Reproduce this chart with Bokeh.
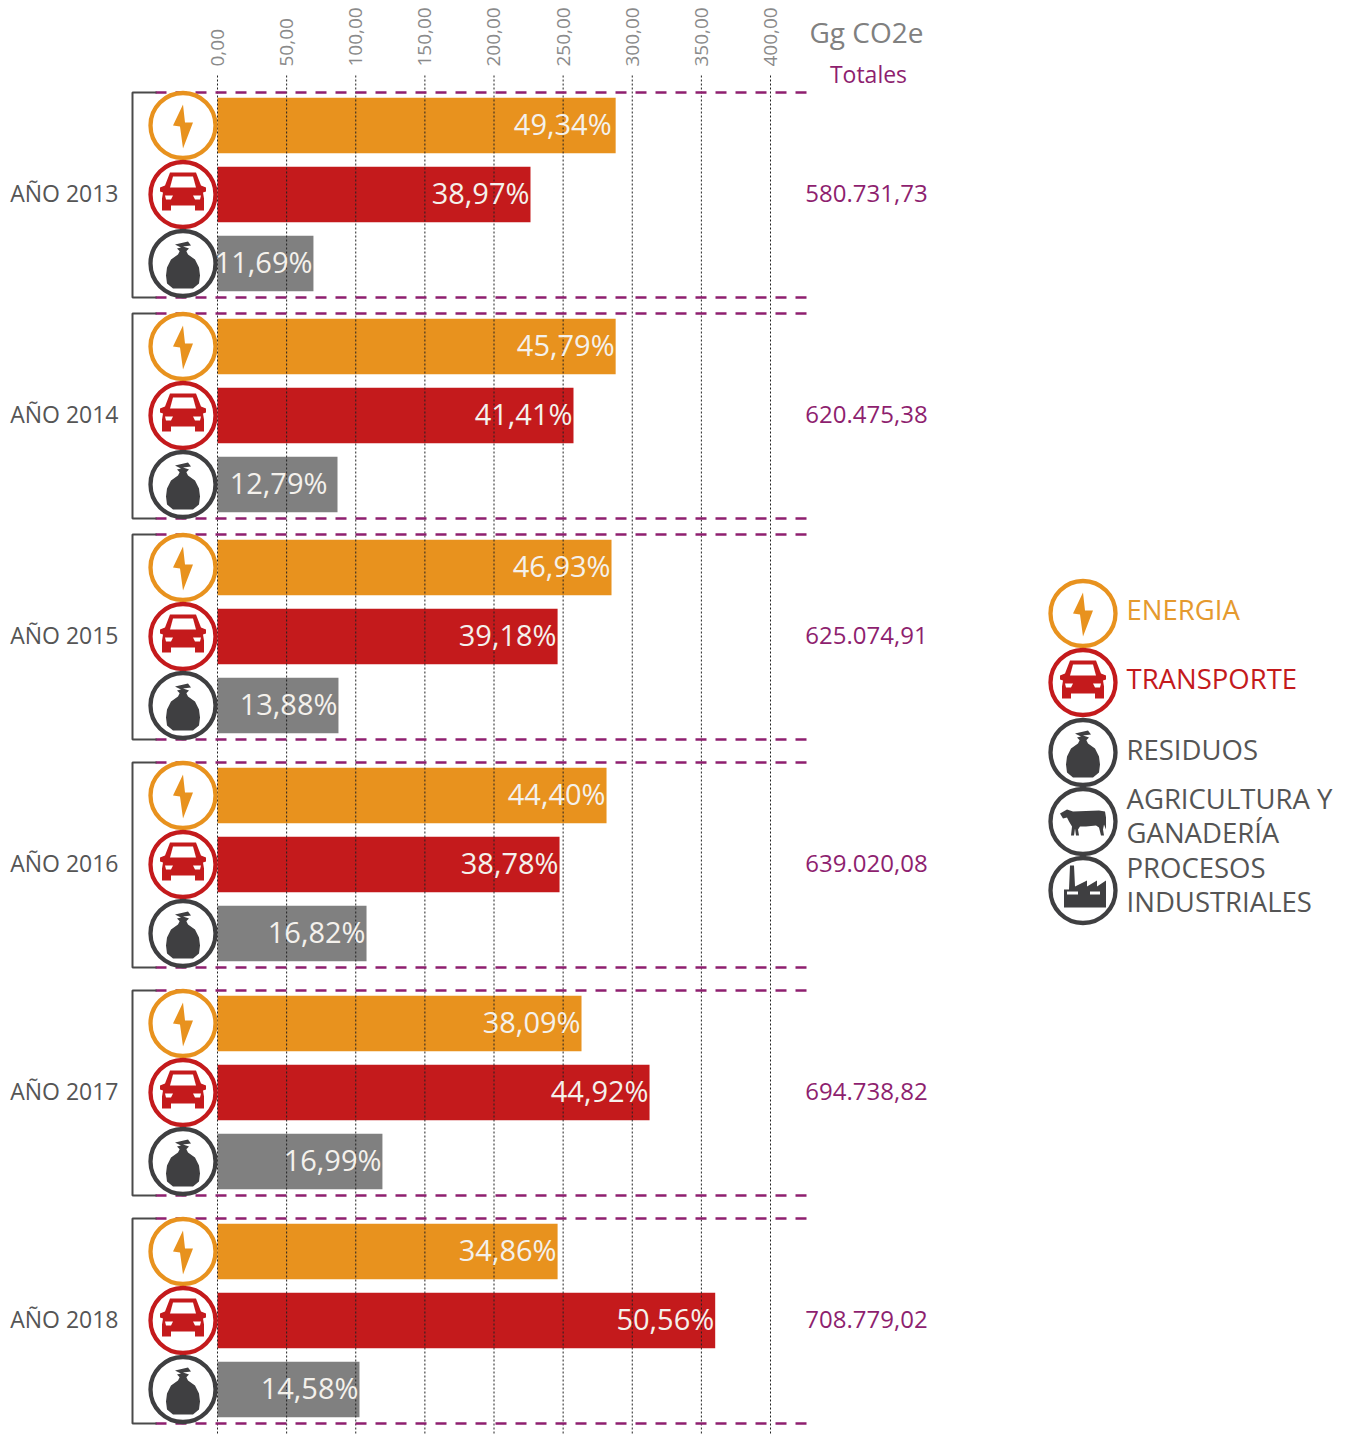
from bokeh.plotting import figure
from bokeh.models import Range1d, LinearAxis, FixedTicker
from bokeh.core.properties import value
from bokeh.embed import file_html
from bokeh.resources import INLINE

# ---------- data ----------
years = ["AÑO 2013", "AÑO 2014", "AÑO 2015", "AÑO 2016", "AÑO 2017", "AÑO 2018"]
totals = ["580.731,73", "620.475,38", "625.074,91", "639.020,08", "694.738,82", "708.779,02"]
energia = [288, 288, 285, 281.4, 263.3, 246]
transporte = [226.4, 257.5, 246, 247.4, 312.5, 360]
residuos = [69.4, 86.8, 87.5, 107.8, 119.3, 102.7]
energia_pct = ["49,34%", "45,79%", "46,93%", "44,40%", "38,09%", "34,86%"]
transporte_pct = ["38,97%", "41,41%", "39,18%", "38,78%", "44,92%", "50,56%"]
residuos_pct = ["11,69%", "12,79%", "13,88%", "16,82%", "16,99%", "14,58%"]
tick_values = [0, 50, 100, 150, 200, 250, 300, 350, 400]
tick_labels = ["0,00", "50,00", "100,00", "150,00", "200,00", "250,00", "300,00", "350,00", "400,00"]
unit_title = "Gg CO2e"
total_title = "Totales"
legend_lines = ["ENERGIA", "TRANSPORTE", "RESIDUOS", "AGRICULTURA Y", "GANADERÍA", "PROCESOS", "INDUSTRIALES"]

# ---------- style / layout ----------
FONT = value("Open Sans")
ORANGE, RED, GRAY, DARK = "#E8921E", "#C41A1C", "#808080", "#3F3F41"
ORANGE_T = "#E59A2E"
PURPLE = "#8E1F6F"
TICK = "#8A8A8A"
TEXT = "#555555"
W, H = 1342, 1434
AXIS_Y = 75
X0 = 217
PX_PER_UNIT = (770 - 217) / 400
group_y = [194, 415, 636, 864, 1092, 1320]
row_off = [-69, 0, 69]

p = figure(width=W, height=H, output_backend="svg", toolbar_location=None,
           x_range=Range1d((0 - X0) / PX_PER_UNIT, (W - X0) / PX_PER_UNIT),
           y_range=Range1d(H, 0),
           x_axis_location=None, y_axis_location=None,
           min_border_left=0, min_border_right=0, min_border_bottom=0,
           min_border_top=0, outline_line_color=None,
           background_fill_color="white", border_fill_color="white")
p.extra_x_ranges = {"px": Range1d(0, W)}
p.grid.visible = False

ax = LinearAxis(ticker=FixedTicker(ticks=tick_values), fixed_location=AXIS_Y,
                major_label_overrides=dict(zip(tick_values, tick_labels)),
                major_label_orientation=1.5708, major_label_standoff=3,
                major_label_text_font="Open Sans", major_label_text_font_size="19px",
                major_label_text_color=TICK, axis_line_color=None,
                major_tick_line_color=None, minor_tick_line_color=None)
p.add_layout(ax, "above")

# bars
for series, off, col in zip((energia, transporte, residuos), row_off, (ORANGE, RED, GRAY)):
    p.hbar(y=[g + off for g in group_y], right=series, left=0, height=55.5,
           color=col, line_color=None, level="image")

# vertical dotted rules at the ticks, over the bars
p.segment(x0=tick_values, x1=tick_values, y0=[AXIS_Y] * len(tick_values), y1=[H] * len(tick_values),
          line_color="#222222", line_width=1, line_dash="2 2", level="underlay")

# group decoration: dashed lines + brackets
dash_y = [g - 102 for g in group_y] + [g + 103 for g in group_y]
p.multi_line(xs=[[806, 146]] * len(dash_y), ys=[[y, y] for y in dash_y],
             x_range_name="px", line_color=PURPLE, line_width=2.5, line_dash="11 9")
p.multi_line(xs=[[156, 132, 132, 156]] * 6,
             ys=[[g - 102, g - 102, g + 103, g + 103] for g in group_y],
             x_range_name="px", line_color="#4A4A4A", line_width=2)

# ---------- icons (local px around the circle centre, y down) ----------
BOLT = [(0, -21), (-10, 0), (-3, 1), (0, 23), (10, -3), (2, -3)]
CAR = [(-13, -22), (13, -22), (18, -9), (23, -7), (23, -3), (20, -2), (21, 4), (21, 16), (12, 16), (12, 11),
       (-12, 11), (-12, 16), (-21, 16), (-21, 4), (-20, -2), (-23, -3), (-23, -7), (-18, -9)]
CAR_WIN = [(-10, -18), (10, -18), (13, -7), (-13, -7)]
CAR_L1 = [(-18, 1), (-10, 1), (-12, 5), (-17, 5)]
CAR_L2 = [(18, 1), (10, 1), (12, 5), (17, 5)]
BAG = [(-3, -13), (3, -13), (5, -9), (12, -4), (16, 4), (17, 12), (16, 20), (10, 25), (-10, 25), (-16, 20), (-17, 12),
       (-16, 4), (-12, -4), (-5, -9)]
BAG_TIE = [(-8, -19), (5, -22), (8, -18), (0, -17), (6, -15), (3, -12), (-3, -12), (-6, -15), (-2, -16)]
COW = [(-23, -8), (-16, -12), (-10, -10), (16, -11), (22, -10), (23, -4), (23, 8), (21, 3), (20, 8), (21, 14),
       (18, 14), (16, 6), (13, 4), (3, 5), (-3, 5), (-5, 8), (-4, 14), (-7, 14), (-8, 7), (-9, 14), (-12, 14),
       (-11, 5), (-14, 0), (-16, -4), (-20, -3)]
FACTORY = [(-19, -1), (-14, -1), (-13, -25), (-9, -25), (-8, -4), (4, -10), (4, -4), (14, -10), (14, -4), (23, -10),
           (23, 17), (-19, 17)]
FAC_W1 = [(-16, 1), (-5, 1), (-5, 4), (-16, 4)]
FAC_W2 = [(7, 1), (17, 1), (17, 4), (7, 4)]


def draw_icons(cx, cy, line, fill, parts):
    p.scatter(x=cx, y=cy, x_range_name="px", size=65, marker="circle",
              fill_color="white", line_color=line, line_width=4.3)
    for shape, col in [(s, fill) for s in parts[0]] + [(s, "white") for s in parts[1]]:
        xs = [[a + dx for dx, _ in shape] for a in cx]
        ys = [[b + dy for _, dy in shape] for b in cy]
        p.patches(xs=xs, ys=ys, x_range_name="px", fill_color=col, line_color=None)


ICONS = {
    "e": (ORANGE, ORANGE, ([BOLT], [])),
    "t": (RED, RED, ([CAR], [CAR_WIN, CAR_L1, CAR_L2])),
    "r": (DARK, DARK, ([BAG, BAG_TIE], [])),
    "a": (DARK, DARK, ([COW], [])),
    "p": (DARK, DARK, ([FACTORY], [FAC_W1, FAC_W2])),
}
for key, off in zip("etr", row_off):
    line, fill, parts = ICONS[key]
    draw_icons([182.5] * 6, [g + off for g in group_y], line, fill, parts)
for key, y in zip("etrap", [613, 682, 752, 821, 890]):
    line, fill, parts = ICONS[key]
    draw_icons([1082.5], [y], line, fill, parts)

# ---------- texts ----------
label_gap = {(0, 0): 4, (2, 1): 10}
for r, (series, labels, off) in enumerate(zip((energia, transporte, residuos),
                                              (energia_pct, transporte_pct, residuos_pct), row_off)):
    p.text(x=series, y=[g + off - 2.5 for g in group_y], text=labels,
           x_offset=[-label_gap.get((r, i), 1) for i in range(6)],
           text_align="right", text_baseline="middle", text_font=FONT,
           text_font_size="29px", text_color="#F4F1EC")

p.text(x=[118] * 6, y=[g - 2 for g in group_y], text=years, x_range_name="px", text_align="right",
       text_baseline="middle", text_font=FONT, text_font_size="23px", text_color=TEXT)
p.text(x=[866] * 6, y=[g - 1 for g in group_y], text=totals, x_range_name="px", text_align="center",
       text_baseline="middle", text_font=FONT, text_font_size="24px", text_color=PURPLE)

legend_y = [609, 678, 749, 798, 832, 867, 901]
legend_col = [ORANGE_T, RED, TEXT, TEXT, TEXT, TEXT, TEXT]
p.text(x=[1126] * 7, y=legend_y, text=legend_lines, x_range_name="px", text_align="left",
       text_baseline="middle", text_font=FONT, text_font_size="27.5px", text_color=legend_col)

p.text(x=[866], y=[31], text=[unit_title], x_range_name="px", text_align="center",
       text_baseline="middle", text_font=FONT, text_font_size="28px", text_color="#808080")
p.text(x=[868], y=[73], text=[total_title], x_range_name="px", text_align="center",
       text_baseline="middle", text_font=FONT, text_font_size="23px", text_color=PURPLE)

open("out.html", "w").write(file_html(p, INLINE))
